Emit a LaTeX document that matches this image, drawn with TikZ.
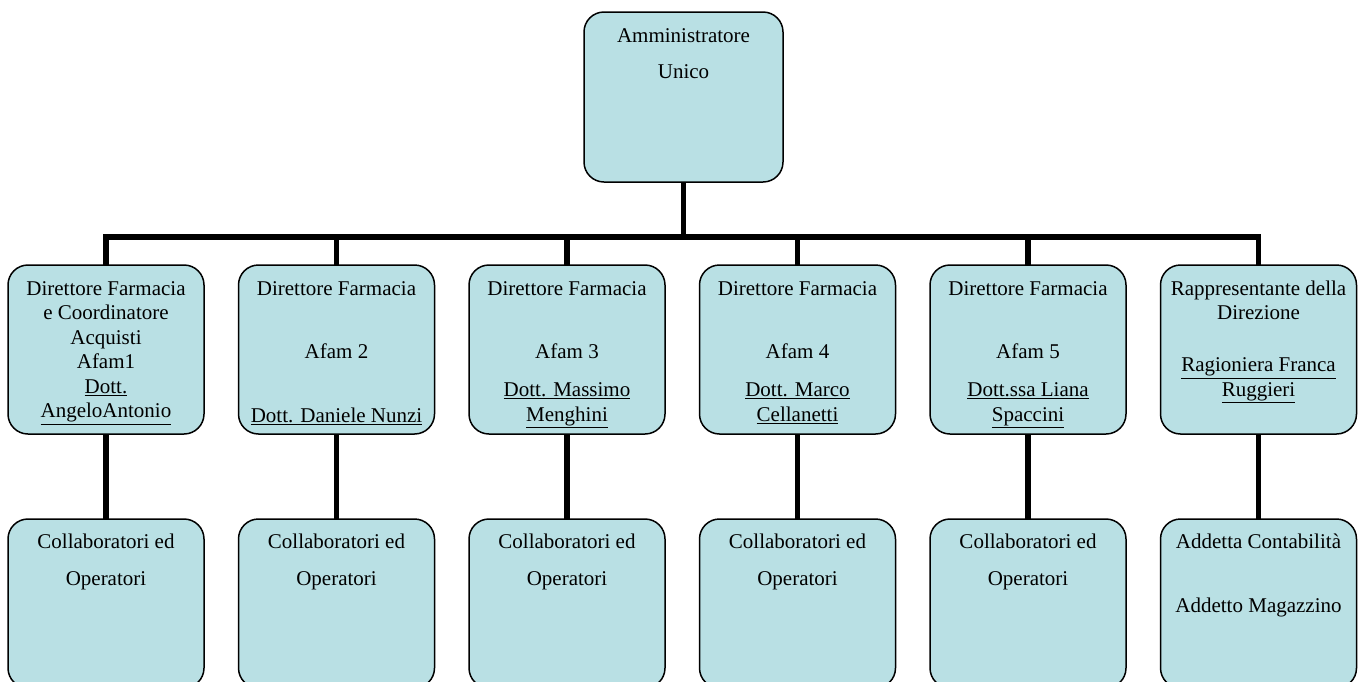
\documentclass[tikz,border=0pt]{standalone}
\usepackage{fontspec}
\setmainfont{Liberation Serif}
\usepackage{xcolor}
\usetikzlibrary{positioning}
\definecolor{boxfill}{RGB}{185,224,228}

\begin{document}
\begin{tikzpicture}[x=1pt, y=-1pt,
	unit/.style={rectangle, draw=black, line width=1.5pt, fill=boxfill, rounded corners=20, minimum width=196, minimum height=169, outer sep=0pt},
	txt/.style={inner sep=0pt, align=center, font=\fontsize{21}{24.5}\selectfont},
	link/.style={line width=5.5pt},
	]
		\useasboundingbox (0,0) rectangle (1364,681);
		\clip (0,0) rectangle (1364,681);

		%Nodes
		\node[unit, minimum width=199, minimum height=170] (Admin) at (683.5,97) {};
		\node[unit]        (Dir1)   at (106,349.5)        {};
		\node[unit]        (Dir2)   [right=34.5pt of Dir1] {};
		\node[unit]        (Dir3)   [right=34.5pt of Dir2] {};
		\node[unit]        (Dir4)   [right=34.5pt of Dir3] {};
		\node[unit]        (Dir5)   [right=34.5pt of Dir4] {};
		\node[unit]        (Dir6)   [right=34.5pt of Dir5] {};

		\node[unit]        (Staff1) [below=85pt of Dir1]  {};
		\node[unit]        (Staff2) [below=85pt of Dir2]  {};
		\node[unit]        (Staff3) [below=85pt of Dir3]  {};
		\node[unit]        (Staff4) [below=85pt of Dir4]  {};
		\node[unit]        (Staff5) [below=85pt of Dir5]  {};
		\node[unit]        (Staff6) [below=85pt of Dir6]  {};

		%Texts
		\node[txt] (AdminT) [below=13pt of Admin.north] {\strut Amministratore\\[11.5pt]Unico};
		\node[txt] (Dir1T)  [below=13pt of Dir1.north] {\strut Direttore Farmacia\\e Coordinatore\\Acquisti\\Afam1\\\underline{Dott.}\\\underline{AngeloAntonio}};
		\node[txt] (Dir2T)  [below=13pt of Dir2.north] {\strut Direttore Farmacia\\[39pt]Afam 2\\[39.5pt]\underline{Dott. Daniele Nunzi}};
		\node[txt] (Dir3T)  [below=13pt of Dir3.north] {\strut Direttore Farmacia\\[39pt]Afam 3\\[13.5pt]\underline{Dott. Massimo}\\\underline{Menghini}};
		\node[txt] (Dir4T)  [below=13pt of Dir4.north] {\strut Direttore Farmacia\\[39pt]Afam 4\\[13.5pt]\underline{Dott. Marco}\\\underline{Cellanetti}};
		\node[txt] (Dir5T)  [below=13pt of Dir5.north] {\strut Direttore Farmacia\\[39pt]Afam 5\\[13.5pt]\underline{Dott.ssa Liana}\\\underline{Spaccini}};
		\node[txt] (Dir6T)  [below=13pt of Dir6.north] {\strut Rappresentante della\\Direzione\\[27.5pt]\underline{Ragioniera Franca}\\\underline{Ruggieri}};

		\node[txt] (Staff1T) [below=12pt of Staff1.north] {\strut Collaboratori ed\\[12.5pt]Operatori};
		\node[txt] (Staff2T) [below=12pt of Staff2.north] {\strut Collaboratori ed\\[12.5pt]Operatori};
		\node[txt] (Staff3T) [below=12pt of Staff3.north] {\strut Collaboratori ed\\[12.5pt]Operatori};
		\node[txt] (Staff4T) [below=12pt of Staff4.north] {\strut Collaboratori ed\\[12.5pt]Operatori};
		\node[txt] (Staff5T) [below=12pt of Staff5.north] {\strut Collaboratori ed\\[12.5pt]Operatori};
		\node[txt] (Staff6T) [below=12pt of Staff6.north] {\strut Addetta Contabilità\\[39.5pt]Addetto Magazzino};

		%Lines
		\coordinate (Bar) at (0,237);
		\draw[link] (Admin.south) -- (Admin.south |- Bar);
		\draw[link] (Dir1.north) -- (Dir1.north |- Bar) -- (Dir6.north |- Bar) -- (Dir6.north);
		\draw[link] (Dir2.north) -- (Dir2.north |- Bar);
		\draw[link] (Dir3.north) -- (Dir3.north |- Bar);
		\draw[link] (Dir4.north) -- (Dir4.north |- Bar);
		\draw[link] (Dir5.north) -- (Dir5.north |- Bar);

		\draw[link] (Dir1.south) -- (Staff1.north);
		\draw[link] (Dir2.south) -- (Staff2.north);
		\draw[link] (Dir3.south) -- (Staff3.north);
		\draw[link] (Dir4.south) -- (Staff4.north);
		\draw[link] (Dir5.south) -- (Staff5.north);
		\draw[link] (Dir6.south) -- (Staff6.north);
	\end{tikzpicture}
\end{document}
